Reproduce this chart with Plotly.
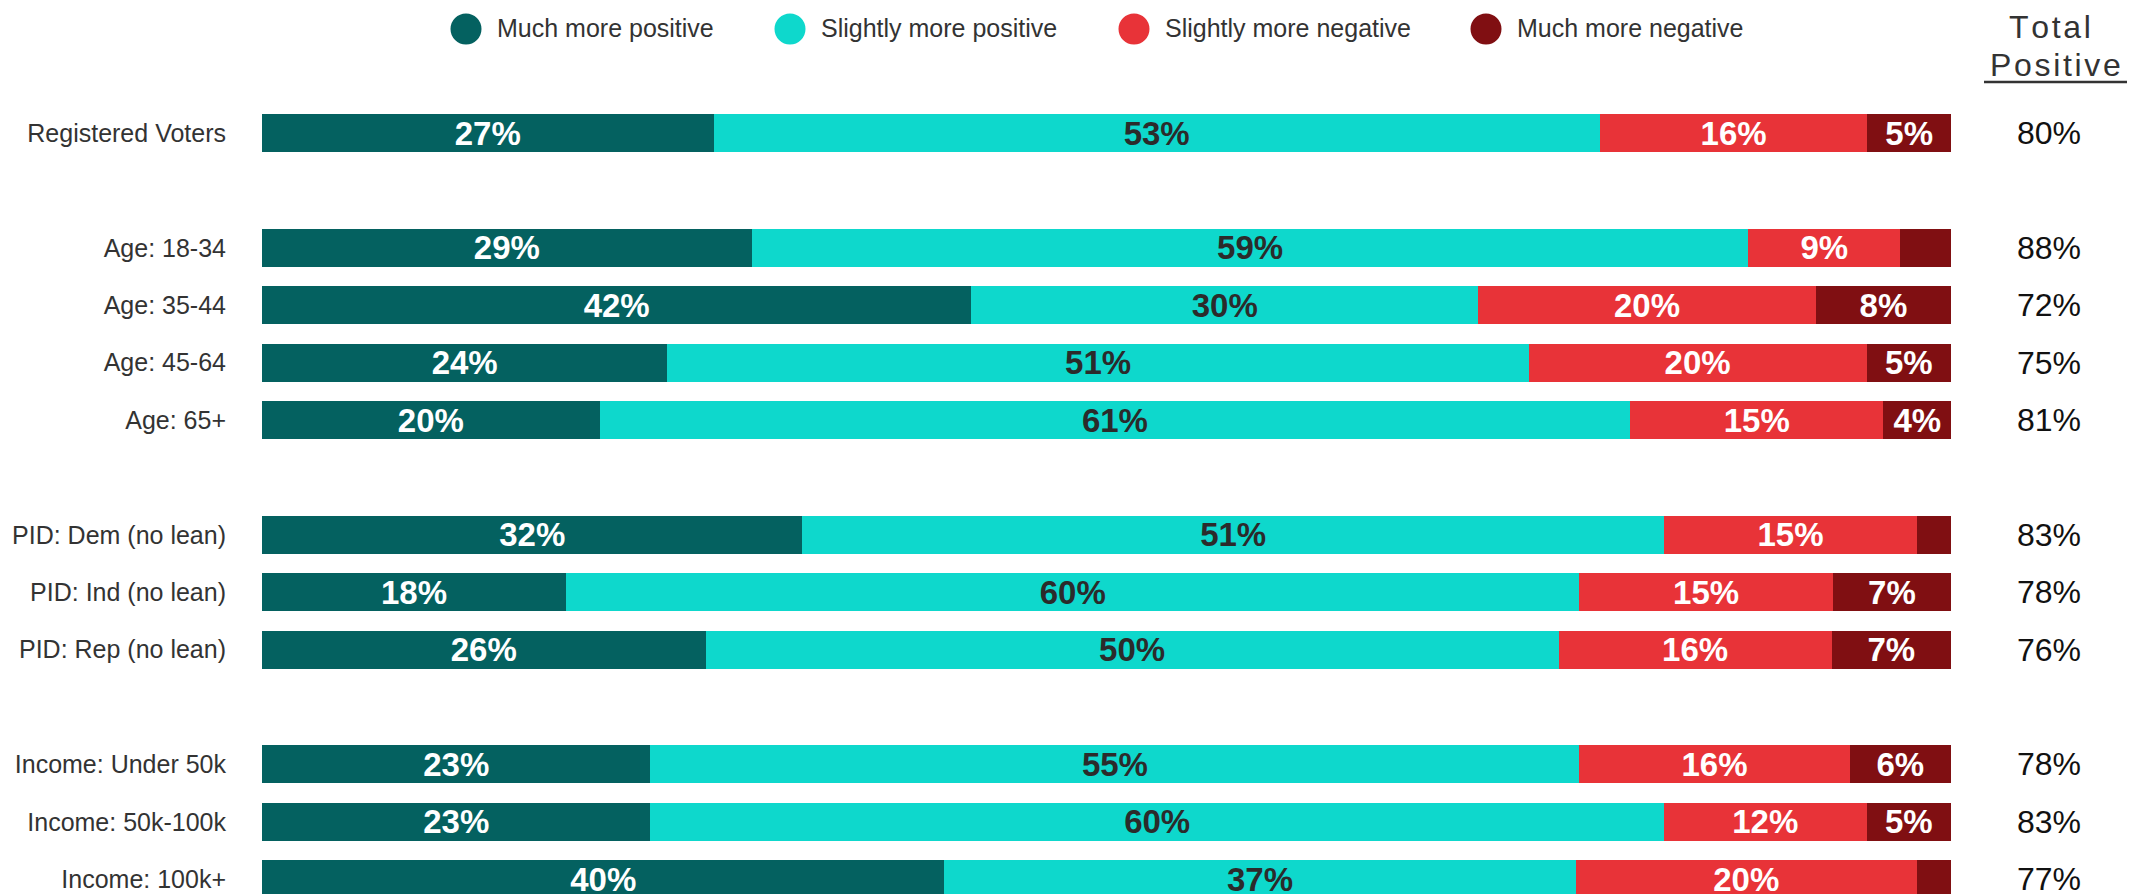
import plotly.graph_objects as go

# --- data ---
groups = [
    ["Registered Voters"],
    ["Age: 18-34", "Age: 35-44", "Age: 45-64", "Age: 65+"],
    ["PID: Dem (no lean)", "PID: Ind (no lean)", "PID: Rep (no lean)"],
    ["Income: Under 50k", "Income: 50k-100k", "Income: 100k+"],
]

series_names = [
    "Much more positive",
    "Slightly more positive",
    "Slightly more negative",
    "Much more negative",
]
much_pos = [27, 29, 42, 24, 20, 32, 18, 26, 23, 23, 40]
slight_pos = [53, 59, 30, 51, 61, 51, 60, 50, 55, 60, 37]
slight_neg = [16, 9, 20, 20, 15, 15, 15, 16, 16, 12, 20]
much_neg = [5, 3, 8, 5, 4, 2, 7, 7, 6, 5, 2]
total_positive = [80, 88, 72, 75, 81, 83, 78, 76, 78, 83, 77]

colors = ["#046160", "#0ED8CC", "#E83338", "#800F12"]
text_colors = ["#FFFFFF", "#2B2B2B", "#FFFFFF", "#FFFFFF"]

# --- layout constants (pixels) ---
W, H = 2145, 894
ML, MR = 262, 194
ROW_PX = 57.4
FIRST_ROW_PX = 133
FONT = "Liberation Sans, Arial, sans-serif"


def px_x(px):
    return (px - ML) / (W - ML - MR)


def px_y(py):
    return 1 - py / H


# row positions with a blank row between groups
categories, ypos = [], []
row = 0
for g in groups:
    for name in g:
        categories.append(name)
        ypos.append(row)
        row += 1
    row += 1

fig = go.Figure()
for name, vals, col, tcol in zip(
    series_names, [much_pos, slight_pos, slight_neg, much_neg], colors, text_colors
):
    fig.add_trace(
        go.Bar(
            name=name,
            x=vals,
            y=ypos,
            orientation="h",
            width=38 / ROW_PX,
            marker=dict(color=col, line=dict(width=0)),
            text=[f"{v}%" if v >= 4 else "" for v in vals],
            textposition="inside",
            insidetextanchor="middle",
            textangle=0,
            constraintext="none",
            textfont=dict(family=FONT, size=33, color=tcol, weight="bold"),
            hoverinfo="skip",
            showlegend=False,
        )
    )

annotations = []
# total positive column
for y, v in zip(ypos, total_positive):
    annotations.append(
        dict(
            x=px_x(2049), xref="paper", y=y, yref="y",
            text=f"{v}%", showarrow=False, xanchor="center", yanchor="middle",
            font=dict(family=FONT, size=32, color="#111111"),
        )
    )

hs = "\u200a"
annotations.append(
    dict(x=px_x(2050), xref="paper", y=px_y(27), yref="paper",
         text=hs.join("Total"), showarrow=False, xanchor="center", yanchor="middle",
         font=dict(family=FONT, size=32, color="#333333"))
)
annotations.append(
    dict(x=px_x(2055), xref="paper", y=px_y(65), yref="paper",
         text=hs.join("Positive"), showarrow=False, xanchor="center", yanchor="middle",
         font=dict(family=FONT, size=32, color="#333333"))
)

shapes = [
    dict(type="line", xref="paper", yref="paper",
         x0=px_x(1984), x1=px_x(2127), y0=px_y(82), y1=px_y(82),
         line=dict(color="#333333", width=2.5))
]

# custom legend
legend_marker_px = [466, 790, 1134, 1486]
for name, col, mx in zip(series_names, colors, legend_marker_px):
    shapes.append(
        dict(type="circle", xref="paper", yref="paper",
             xsizemode="pixel", ysizemode="pixel",
             xanchor=px_x(mx), yanchor=px_y(29),
             x0=-15.5, x1=15.5, y0=-15.5, y1=15.5,
             fillcolor=col, line=dict(width=0))
    )
    annotations.append(
        dict(x=px_x(mx + 29), xref="paper", y=px_y(28), yref="paper",
             text=name, showarrow=False, xanchor="left", yanchor="middle",
             font=dict(family=FONT, size=25, color="#333333"))
    )

fig.update_layout(
    width=W,
    height=H,
    margin=dict(l=ML, r=MR, t=0, b=0),
    barmode="stack",
    barnorm="percent",
    plot_bgcolor="white",
    paper_bgcolor="white",
    annotations=annotations,
    shapes=shapes,
)
fig.update_xaxes(range=[0, 100], visible=False, fixedrange=True)
fig.update_yaxes(
    range=[(H - FIRST_ROW_PX) / ROW_PX, -FIRST_ROW_PX / ROW_PX],
    tickvals=ypos,
    ticktext=categories,
    showgrid=False,
    zeroline=False,
    showline=False,
    ticks="",
    ticklabelstandoff=35,
    tickfont=dict(family=FONT, size=25, color="#333333"),
)

# drop the default page margin so the figure sits at the window's corner
fig.write_html(
    "out.html",
    config={"displayModeBar": False},
    post_script="document.body.style.margin='0';",
)
